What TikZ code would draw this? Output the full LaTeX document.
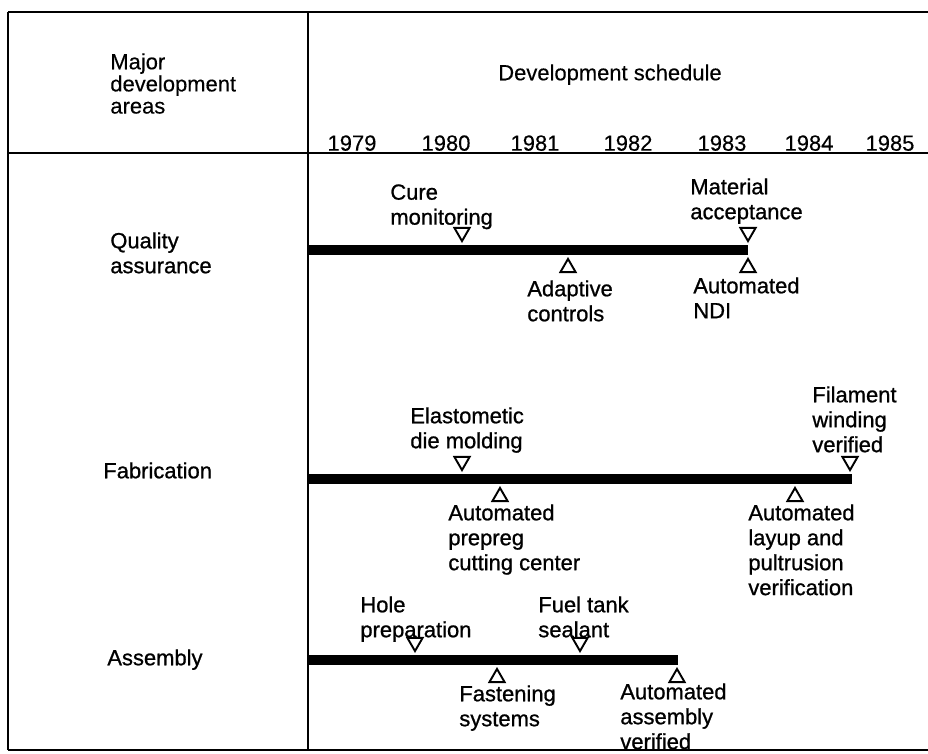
\documentclass[tikz,border=0pt]{standalone}
\usepackage{fontspec}
\setmainfont{Liberation Sans}[FakeBold=0.3]
\newfontfamily\bodyfont{Liberation Sans}[FakeBold=0.9]
\usetikzlibrary{shapes.geometric}

\begin{document}
\begin{tikzpicture}[
  x=0.02cm, y=-0.02cm,
  lbl/.style={anchor=north west, inner sep=0pt, align=left, font=\bodyfont\fontsize{12.5}{14.2}\selectfont},
  hdr/.style={lbl, font=\fontsize{12.5}{12.6}\selectfont},
  yr/.style={anchor=north, inner sep=0pt, font=\fontsize{12.5}{12}\selectfont},
  frame/.style={line width=1.6pt},
  bar/.style={line width=6pt},
  milestone/.style={regular polygon, regular polygon sides=3, draw, line width=1.1pt, fill=white,
    minimum size=0.35cm, inner sep=0pt, anchor=corner 1},
  tridown/.style={milestone, shape border rotate=180},
  triup/.style={milestone},
]
  \useasboundingbox (0,0) rectangle (928,753);

  % table frame
  \draw[frame] (8,12) -- (928,12);
  \draw[frame] (8,153) -- (928,153);
  \draw[frame] (8,750) -- (928,750);
  \draw[frame] (8,12) -- (8,750);
  \draw[frame] (308,12) -- (308,750);

  % header
  \node[hdr] (areas) at (110,53) {Major\\development\\areas};
  \node[hdr, anchor=north] (sched) at (610,64) {Development schedule};
  \foreach \yy/\xx in {1979/352, 1980/446, 1981/535, 1982/628, 1983/722, 1984/809, 1985/890} {
    \node[yr] (y\yy) at (\xx,135) {\yy};
  }

  % row titles
  \node[lbl] (qa)  at (110,232) {Quality\\assurance};
  \node[lbl] (fab) at (103,462) {Fabrication};
  \node[lbl] (asm) at (107,649) {Assembly};

  % bars
  \coordinate (qa0)  at (308,250);
  \coordinate (qa1)  at (748,250);
  \coordinate (fab0) at (308,479);
  \coordinate (fab1) at (852,479);
  \coordinate (asm0) at (308,660);
  \coordinate (asm1) at (678,660);
  \draw[bar] (qa0) -- (qa1);
  \draw[bar] (fab0) -- (fab1);
  \draw[bar] (asm0) -- (asm1);

  % quality assurance
  \node[tridown] (cure)  at (462,243) {};
  \node[tridown] (matl)  at (748,243) {};
  \node[triup]   (adapt) at (568,257) {};
  \node[triup]   (ndi)   at (748,257) {};
  \node[lbl] (curet)  at (390,184) {Cure\\monitoring};
  \node[lbl] (matlt)  at (690,178) {Material\\acceptance};
  \node[lbl] (adaptt) at (527,280) {Adaptive\\controls};
  \node[lbl] (ndit)   at (693,277) {Automated\\NDI};

  % fabrication
  \node[tridown] (elast)  at (462,472) {};
  \node[tridown] (filam)  at (850,472) {};
  \node[triup]   (cutc)   at (500,486) {};
  \node[triup]   (layup)  at (795,486) {};
  \node[lbl] (elastt) at (410,407) {Elastometic\\die molding};
  \node[lbl] (filamt) at (812,386) {Filament\\winding\\verified};
  \node[lbl] (cutct)  at (448,504) {Automated\\prepreg\\cutting center};
  \node[lbl] (layupt) at (748,504) {Automated\\layup and\\pultrusion\\verification};

  % assembly
  \node[tridown] (hole)  at (415,653) {};
  \node[tridown] (fuel)  at (580,653) {};
  \node[triup]   (fast)  at (497,667) {};
  \node[triup]   (autoa) at (677,667) {};
  \node[lbl] (holet)  at (360,596) {Hole\\preparation};
  \node[lbl] (fuelt)  at (538,596) {Fuel tank\\sealant};
  \node[lbl] (fastt)  at (459,685) {Fastening\\systems};
  \node[lbl] (autoat) at (620,683) {Automated\\assembly\\verified};
\end{tikzpicture}
\end{document}
